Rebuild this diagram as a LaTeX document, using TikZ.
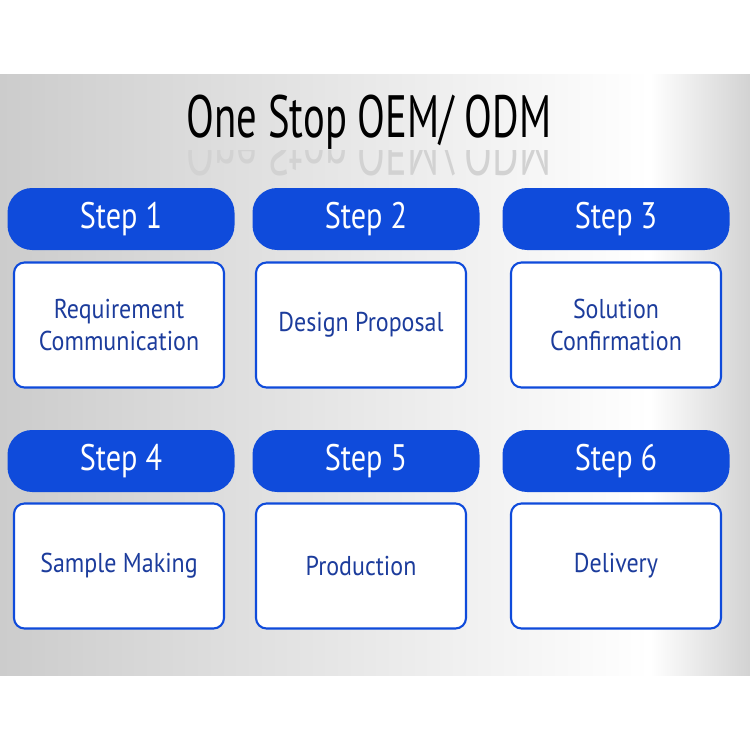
\documentclass[tikz,border=0pt]{standalone}
\usepackage{fontspec}
\setmainfont{PT Sans}
\usetikzlibrary{positioning}
\definecolor{stepblue}{HTML}{0F4BDB}
\definecolor{textblue}{HTML}{1C3C9C}
\newcommand{\narrow}[2]{\scalebox{#1}[1]{#2}}
\tikzset{
  steppill/.style={fill=stepblue,rounded corners=14pt,minimum width=227*0.02cm,minimum height=62*0.02cm,text=white,font=\fontsize{21}{22}\selectfont},
  stepbox/.style={draw=stepblue,line width=1.2pt,fill=white,rounded corners=6pt,minimum width=210*0.02cm,minimum height=125*0.02cm,text=textblue,align=center,font=\fontsize{15.5}{18}\selectfont}
}
\begin{document}
\begin{tikzpicture}[x=0.02cm,y=-0.02cm]
\useasboundingbox (0,0) rectangle (750,750);
\fill[white] (0,0) rectangle (750,750);
\shade[left color=gray!40,right color=white] (0,75) rectangle (650,675);
\shade[left color=white,right color=gray!35] (650,75) rectangle (750,675);
\node[font=\fontsize{34}{36}\selectfont] (title) at (369,122) {\narrow{0.68}{One Stop OEM/ ODM}};
\begin{scope}
  \clip (100,150) rectangle (650,177);
  \node[font=\fontsize{34}{36}\selectfont,yscale=-1,text=gray!35,anchor=north] (refl) at (369,182) {\narrow{0.68}{One Stop OEM/ ODM}};
\end{scope}
\node[steppill] (s1) at (121,219) {\narrow{0.82}{Step 1}};
\node[steppill] (s2) at (366,219) {\narrow{0.82}{Step 2}};
\node[steppill] (s3) at (616,219) {\narrow{0.82}{Step 3}};
\node[steppill] (s4) at (121,461) {\narrow{0.82}{Step 4}};
\node[steppill] (s5) at (366,461) {\narrow{0.82}{Step 5}};
\node[steppill] (s6) at (616,461) {\narrow{0.82}{Step 6}};
\node[stepbox] (b1) at (119,325) {\narrow{0.88}{Requirement}\\\narrow{0.88}{Communication}};
\node[stepbox] (b2) at (361,325) {\narrow{0.88}{Design Proposal}};
\node[stepbox] (b3) at (616,325) {\narrow{0.88}{Solution}\\\narrow{0.88}{Confirmation}};
\node[stepbox] (b4) at (119,566) {\narrow{0.88}{Sample Making}};
\node[stepbox] (b5) at (361,566) {\narrow{0.88}{Production}};
\node[stepbox] (b6) at (616,566) {\narrow{0.88}{Delivery}};
\end{tikzpicture}
\end{document}
